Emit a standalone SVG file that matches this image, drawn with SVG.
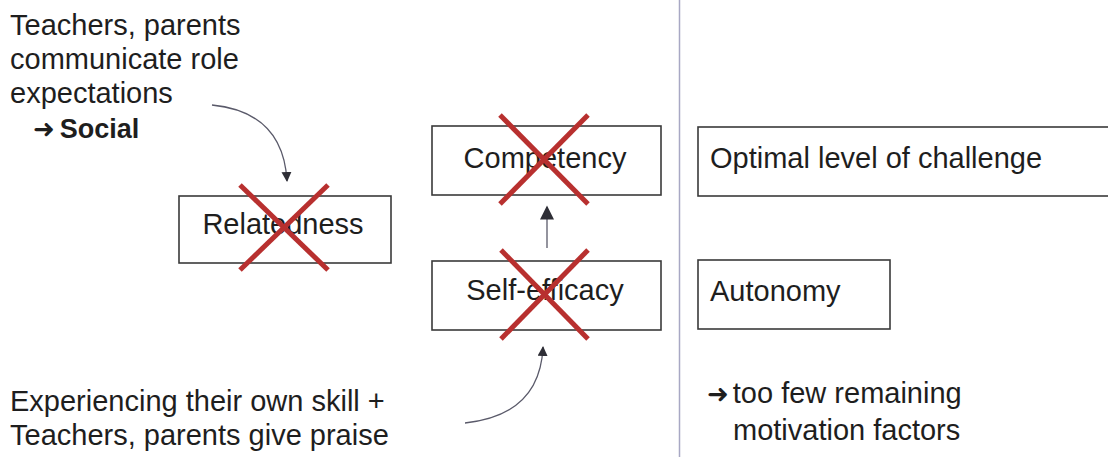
<svg xmlns="http://www.w3.org/2000/svg" width="1108" height="457" viewBox="0 0 1108 457">
  <style>
    .txt { font-family: "Liberation Sans", Arial, sans-serif; font-size: 29px; fill: #1e1e1e; }
    .box { fill: #ffffff; stroke: #3a3a3a; stroke-width: 1.6; }
    .cross { stroke: #b8302f; stroke-width: 5; stroke-linecap: butt; }
    .conn { fill: none; stroke: #5a5a6a; stroke-width: 1.3; }
    .sym { font-family: "DejaVu Sans", sans-serif; font-size: 26px; font-weight: normal; }
  </style>
  <defs>
    <marker id="head" viewBox="0 0 10 10" refX="9" refY="5" markerWidth="10" markerHeight="10" markerUnits="userSpaceOnUse" orient="auto">
      <path d="M0,0 L10,5 L0,10 Z" fill="#2e2e36"/>
    </marker>
    <marker id="headBig" viewBox="0 0 10 10" refX="9" refY="5" markerWidth="15" markerHeight="14" markerUnits="userSpaceOnUse" orient="auto">
      <path d="M0,0 L10,5 L0,10 Z" fill="#2e2e36"/>
    </marker>
  </defs>

  <rect width="1108" height="457" fill="#ffffff"/>

  <!-- divider between crossed-out and remaining factors -->
  <line x1="679.5" y1="0" x2="679.5" y2="457" stroke="#a8a8c4" stroke-width="1.5"/>

  <!-- annotations -->
  <g id="note-social">
    <text class="txt" x="10" y="35">Teachers, parents</text>
    <text class="txt" x="10" y="69">communicate role</text>
    <text class="txt" x="10" y="103">expectations</text>
    <text class="txt" x="33" y="138"><tspan class="sym">➜</tspan><tspan font-weight="bold" font-size="27" dx="5">Social</tspan></text>
  </g>
  <g id="note-skill">
    <text class="txt" x="10" y="411">Experiencing their own skill +</text>
    <text class="txt" x="10" y="445">Teachers, parents give praise</text>
  </g>
  <g id="note-result">
    <text class="txt" x="707" y="403"><tspan class="sym">➜</tspan><tspan dx="4">too few remaining</tspan></text>
    <text class="txt" x="733" y="440">motivation factors</text>
  </g>

  <!-- connectors -->
  <g id="connectors">
    <path class="conn" d="M212,105 Q283,112 287,181" marker-end="url(#head)"/>
    <path class="conn" d="M465,423 Q540,415 543,347" marker-end="url(#head)"/>
    <line class="conn" x1="547" y1="248" x2="547" y2="207" marker-end="url(#headBig)"/>
  </g>

  <!-- nodes -->
  <g id="relatedness">
    <rect class="box" x="179" y="196" width="212" height="67"/>
    <text class="txt" x="283" y="234" text-anchor="middle">Relatedness</text>
    <line class="cross" x1="240" y1="185" x2="328" y2="270"/>
    <line class="cross" x1="328" y1="185" x2="240" y2="270"/>
  </g>
  <g id="competency">
    <rect class="box" x="432" y="126" width="229" height="69"/>
    <text class="txt" x="545" y="168" text-anchor="middle">Competency</text>
    <line class="cross" x1="500" y1="115" x2="588" y2="204"/>
    <line class="cross" x1="588" y1="115" x2="500" y2="204"/>
  </g>
  <g id="self-efficacy">
    <rect class="box" x="432" y="261" width="229" height="69"/>
    <text class="txt" x="545" y="300" text-anchor="middle">Self-efficacy</text>
    <line class="cross" x1="501" y1="250" x2="588" y2="339"/>
    <line class="cross" x1="588" y1="250" x2="501" y2="339"/>
  </g>
  <g id="challenge">
    <rect class="box" x="698" y="127" width="420" height="69"/>
    <text class="txt" x="710" y="168">Optimal level of challenge</text>
  </g>
  <g id="autonomy">
    <rect class="box" x="698" y="260" width="192" height="69"/>
    <text class="txt" x="710" y="301">Autonomy</text>
  </g>
</svg>
